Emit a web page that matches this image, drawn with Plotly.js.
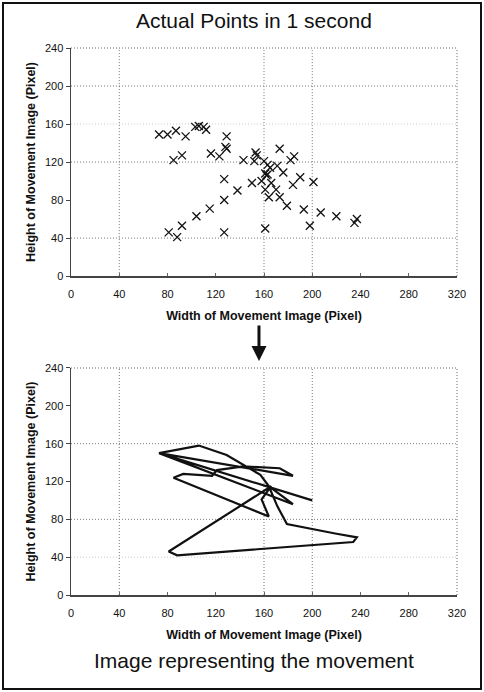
<!DOCTYPE html>
<html><head><meta charset="utf-8">
<script src="https://cdn.plot.ly/plotly-3.0.1.min.js"></script>
<style>
html,body{margin:0;padding:0;background:#fff;}
#wrap{position:relative;width:484px;height:692px;}
#chart{position:absolute;left:0;top:0;width:484px;height:692px;}
#frame{position:absolute;left:2px;top:2px;width:476px;height:684px;border:2px solid #111;pointer-events:none;}
</style></head>
<body><div id="wrap"><div id="chart"></div><div id="frame"></div></div>
<script>
// Top chart: actual sampled points
var pointX = [73,80,87,95,103,106,110,112,129,128,129,85,92,116,123,143,153,154,152,160,163,165,171,173,176,182,185,161,162,163,158,150,127,166,161,164,170,173,179,184,190,201,193,207,220,235,237,198,161,127,138,127,115,104,92,81,88];
var pointY = [149,149,153,147,157,158,157,154,147,136,134,122,127,129,126,122,130,127,121,121,117,114,116,134,109,122,126,108,106,107,100,98,102,98,91,83,91,83,74,96,104,99,70,67,63,56,60,53,50,46,90,80,71,63,53,46,41];
// Bottom chart: movement path vertices (in drawing order)
var pathX = [200,73,106,129,157,164,184,73,184,173,143,121,117,93,85,164,158,166,81,88,234,237,219,179,171,164];
var pathY = [100,150,158,148,127,115,96,150,126,134,136,132,126,128,124,83,101,115,46,42,56,61,65,75,94,115];
var xTicks = [0,40,80,120,160,200,240,280,320];
var yTicks = [0,40,80,120,160,200,240];
var topGridX = [40,160,200], topGridY = [40,120,200], topFaintY = [160];
var botGridX = [40,160,200], botGridY = [80,160], botFaintY = [40];
var chartTitle = 'Actual Points in 1 second';
var bottomCaption = 'Image representing the movement';
var xTitle = 'Width of Movement Image (Pixel)';
var yTitle = 'Height of Movement Image (Pixel)';

var FONT = 'Liberation Sans, Arial, sans-serif';
var DOT = '1px,2px';
function xa(anchor){
  return {domain:[0,1], anchor:anchor, range:[0,320], tickvals:xTicks, ticktext:xTicks.map(String),
    showgrid:false, zeroline:false, showline:true, linecolor:'#444', linewidth:1.5,
    ticks:'inside', ticklen:3, tickcolor:'#666', ticklabelstandoff:7, tickfont:{family:FONT,size:11,color:'#111'},
    title:{text:'<b>'+xTitle+'</b>', font:{family:FONT,size:12.5,color:'#111'}, standoff:12}};
}
function ya(anchor, dom){
  return {domain:dom, anchor:anchor, range:[0,240], tickvals:yTicks, ticktext:yTicks.map(String),
    showgrid:false, zeroline:false, showline:true, linecolor:'#444', linewidth:1.5,
    ticks:'outside', ticklen:4, tickcolor:'#444', tickfont:{family:FONT,size:11,color:'#111'},
    title:{text:'<b>'+yTitle+'</b>', font:{family:FONT,size:12.5,color:'#111'}, standoff:6}};
}
var topDom = [0.583,1], botDom = [0,0.415];
var shapes = [];
function grid(xr, yr, gx, gy, fy){
  gx.forEach(function(v){shapes.push({type:'line',xref:xr,yref:yr+' domain',x0:v,x1:v,y0:0,y1:1,line:{color:'#777',width:1,dash:DOT},layer:'below'});});
  gy.forEach(function(v){shapes.push({type:'line',xref:xr+' domain',yref:yr,x0:0,x1:1,y0:v,y1:v,line:{color:'#777',width:1,dash:DOT},layer:'below'});});
  fy.forEach(function(v){shapes.push({type:'line',xref:xr+' domain',yref:yr,x0:0,x1:1,y0:v,y1:v,line:{color:'#ccc',width:1,dash:DOT},layer:'below'});});
  shapes.push({type:'line',xref:xr+' domain',yref:yr+' domain',x0:0,x1:1,y0:1,y1:1,line:{color:'#666',width:1,dash:DOT}});
  shapes.push({type:'line',xref:xr+' domain',yref:yr+' domain',x0:1,x1:1,y0:0,y1:1,line:{color:'#666',width:1,dash:DOT}});
}
grid('x','y',topGridX,topGridY,topFaintY);
grid('x2','y2',botGridX,botGridY,botFaintY);

var data = [
  {type:'scatter', mode:'markers', x:pointX, y:pointY, xaxis:'x', yaxis:'y',
   marker:{symbol:'x-thin', size:8, color:'#111', line:{color:'#111', width:1.3}}, hoverinfo:'x+y'},
  {type:'scatter', mode:'lines', x:pathX, y:pathY, xaxis:'x2', yaxis:'y2',
   line:{color:'#111', width:2.2}, hoverinfo:'x+y'}
];
var layout = {
  width:484, height:692, showlegend:false,
  margin:{l:71, r:27, t:48, b:97},
  paper_bgcolor:'#fff', plot_bgcolor:'#fff',
  font:{family:FONT, color:'#111'},
  xaxis: xa('y'), yaxis: ya('x', topDom),
  xaxis2: xa('y2'), yaxis2: ya('x2', botDom),
  shapes: shapes,
  annotations:[
    {text:chartTitle, xref:'paper', yref:'paper', x:0.474, y:1.05, xanchor:'center', yanchor:'middle', showarrow:false, font:{family:FONT,size:21,color:'#111'}},
    {text:bottomCaption, xref:'paper', yref:'paper', x:0.474, y:-0.119, xanchor:'center', yanchor:'middle', showarrow:false, font:{family:FONT,size:21,color:'#111'}},
    {text:'', xref:'paper', yref:'paper', x:0.487, y:0.428, ax:0, ay:-37, showarrow:true, arrowhead:2, arrowsize:1, arrowwidth:3, arrowcolor:'#111'}
  ]
};
Plotly.newPlot('chart', data, layout, {displayModeBar:false, staticPlot:true});
</script></body></html>
